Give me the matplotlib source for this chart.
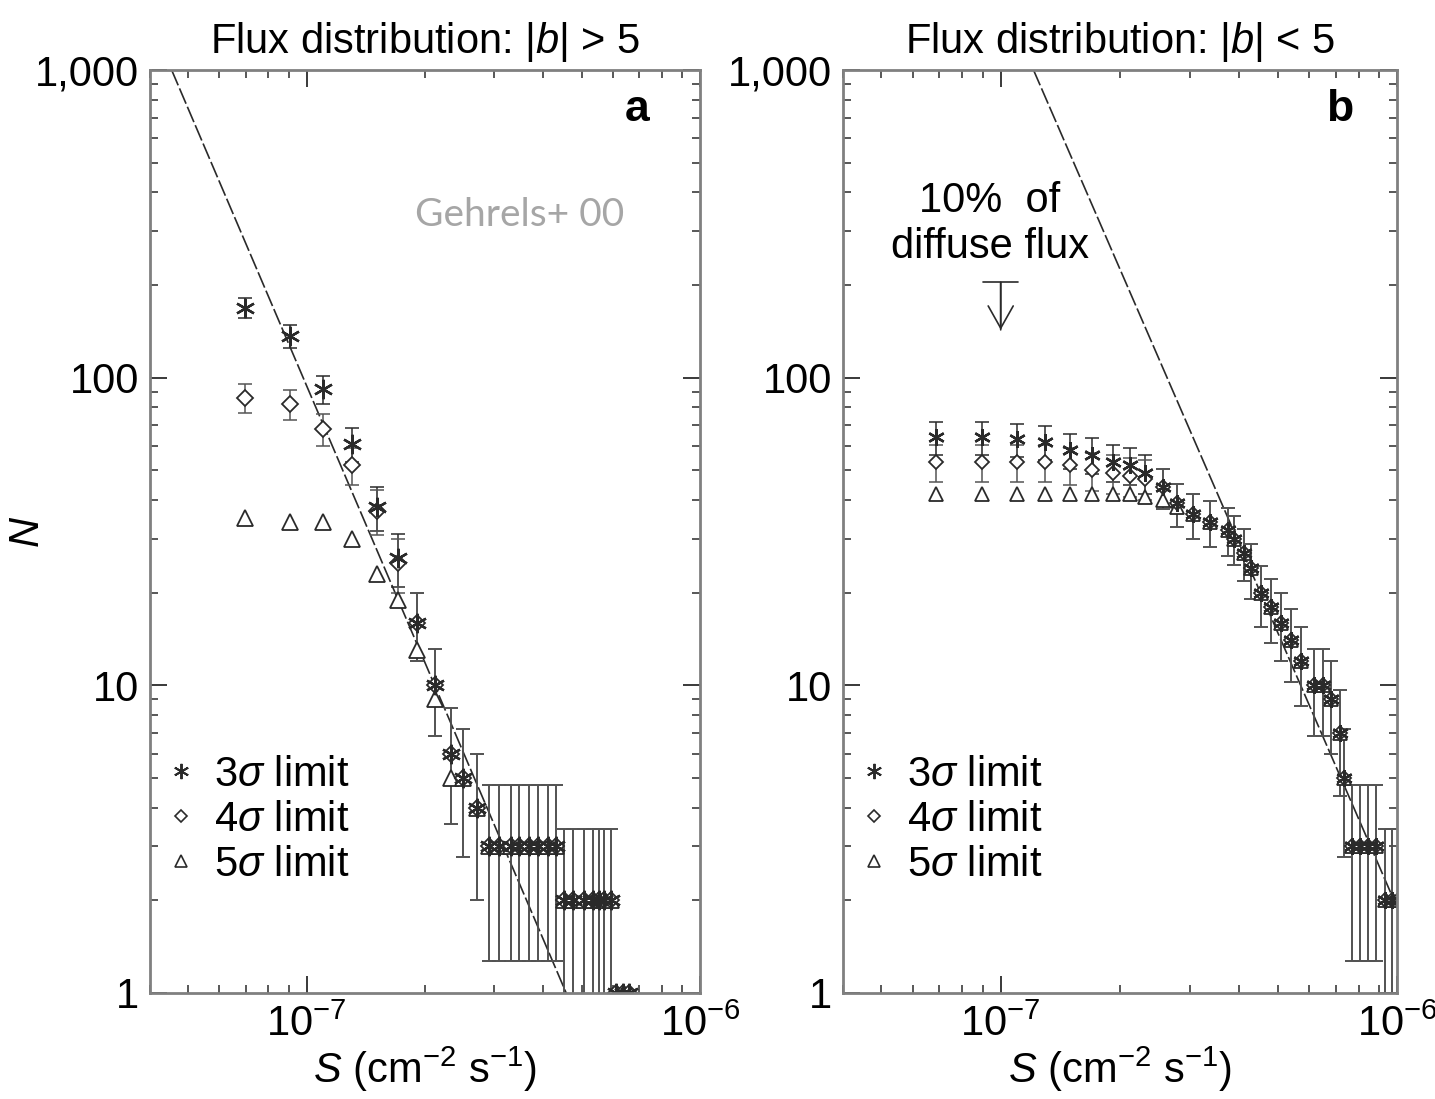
import numpy as np
import matplotlib.pyplot as plt
from matplotlib.ticker import LogLocator, FuncFormatter, NullFormatter
from matplotlib.lines import Line2D

plt.rcParams['font.family'] = ['Liberation Sans', 'DejaVu Sans']
plt.rcParams['mathtext.fontset'] = 'custom'
plt.rcParams['mathtext.rm'] = 'Liberation Sans'
plt.rcParams['mathtext.it'] = 'Liberation Sans:italic'
plt.rcParams['mathtext.bf'] = 'Liberation Sans:bold'

# ---- panel a: |b| > 5 ----
a_S = [6.96e-8, 9.05e-8, 1.104e-7, 1.301e-7, 1.514e-7, 1.712e-7, 1.913e-7, 2.125e-7,
       2.334e-7, 2.503e-7, 2.716e-7, 2.913e-7, 3.09e-7, 3.31e-7, 3.47e-7, 3.68e-7,
       3.88e-7, 4.11e-7, 4.31e-7, 4.52e-7, 4.76e-7, 5.08e-7, 5.35e-7, 5.54e-7,
       5.71e-7, 5.94e-7, 6.12e-7, 6.38e-7, 6.60e-7]
a_N3 = [169, 137, 92, 61, 38, 26, 16, 10, 6, 5, 4, 3, 3, 3, 3, 3, 3, 3, 3,
        2, 2, 2, 2, 2, 2, 2, 1, 1, 1]
a_N4 = [86, 82, 68, 52, 37, 25, 16, 10, 6, 5, 4, 3, 3, 3, 3, 3, 3, 3, 3,
        2, 2, 2, 2, 2, 2, 2, 1, 1, 1]
a_N5 = [35, 34, 34, 30, 23, 19, 13, 9, 5, 5, 4, 3, 3, 3, 3, 3, 3, 3, 3,
        2, 2, 2, 2, 2, 2, 2, 1, 1, 1]
a_line_S = [4.54e-8, 4.57e-7]
a_line_N = [1000, 1]

# ---- panel b: |b| < 5 ----
b_S = [6.87e-8, 8.95e-8, 1.098e-7, 1.294e-7, 1.498e-7, 1.704e-7, 1.916e-7, 2.117e-7,
       2.312e-7, 2.568e-7, 2.788e-7, 3.06e-7, 3.38e-7, 3.74e-7, 3.87e-7, 4.10e-7,
       4.28e-7, 4.53e-7, 4.81e-7, 5.10e-7, 5.41e-7, 5.73e-7, 6.18e-7, 6.52e-7,
       6.83e-7, 7.16e-7, 7.37e-7, 7.68e-7, 8.05e-7, 8.44e-7, 8.84e-7, 9.32e-7,
       9.71e-7, 1.006e-6]
b_N3 = [64, 64, 63, 62, 58, 56, 53, 52, 49, 44, 39, 36, 34, 32, 30, 27, 24, 20, 18,
        16, 14, 12, 10, 10, 9, 7, 5, 3, 3, 3, 3, 2, 2, 2]
b_N4 = [53, 53, 53, 53, 52, 50, 49, 48, 47, 44, 39, 36, 34, 32, 30, 27, 24, 20, 18,
        16, 14, 12, 10, 10, 9, 7, 5, 3, 3, 3, 3, 2, 2, 2]
b_N5 = [42, 42, 42, 42, 42, 42, 42, 42, 41, 40, 38, 36, 34, 32, 30, 27, 24, 20, 18,
        16, 14, 12, 10, 10, 9, 7, 5, 3, 3, 3, 3, 2, 2, 2]
b_line_S = [1.21e-7, 1.0e-6]
b_line_N = [1000, 1.9]
limit_S = 1.0e-7          # 10% of diffuse flux
limit_N = [204, 143]

labels = [r'3$\sigma$ limit', r'4$\sigma$ limit', r'5$\sigma$ limit']
ink = '#2a2a2a'
star = (6, 2, 0)
fs = 30

W, H = 1435, 1099
fig = plt.figure(figsize=(W / 100, H / 100), dpi=100)
axA = fig.add_axes([150 / W, 1 - 993 / H, 550 / W, 923 / H])
axB = fig.add_axes([843 / W, 1 - 993 / H, 554 / W, 923 / H])


def setup(ax, title):
    ax.set_xscale('log')
    ax.set_yscale('log')
    ax.set_xlim(4.0e-8, 1.0e-6)
    ax.set_ylim(1, 1000)
    ax.xaxis.set_major_locator(LogLocator(base=10, numticks=10))
    ax.xaxis.set_minor_locator(LogLocator(base=10, subs=np.arange(2, 10), numticks=20))
    ax.xaxis.set_minor_formatter(NullFormatter())
    ax.yaxis.set_major_formatter(FuncFormatter(lambda v, p: '{:,}'.format(int(round(v)))))
    ax.yaxis.set_minor_formatter(NullFormatter())
    ax.tick_params(which='both', direction='in', top=True, right=True,
                   colors=ink, labelcolor='black', labelsize=fs)
    ax.tick_params(which='major', length=12, width=1.3, pad=8)
    ax.tick_params(which='minor', length=6, width=1.1)
    for sp in ax.spines.values():
        sp.set_color('#808080')
        sp.set_linewidth(2)
    ax.set_title(title, fontsize=fs, pad=12)
    ax.set_xlabel(r'$S$ (cm$^{-2}$ s$^{-1}$)', fontsize=fs, labelpad=0)


def draw(ax, S, N3, N4, N5, ms):
    S = np.array(S)
    N3 = np.array(N3, dtype=float)
    N4 = np.array(N4, dtype=float)
    N5 = np.array(N5, dtype=float)
    m3 = N3 > 1
    m4 = N4 > 1
    ax.errorbar(S[m3], N3[m3], yerr=np.sqrt(N3[m3]), fmt='none', ecolor=ink,
                elinewidth=1.1, capsize=5, capthick=1.1)
    ax.errorbar(S[m4], N4[m4], yerr=np.sqrt(N4[m4]), fmt='none', ecolor='#555555',
                elinewidth=1.1, capsize=5, capthick=1.1)
    ax.plot(S, N5, ls='none', marker='^', ms=ms * 0.85, mfc='white', mec=ink, mew=1.3)
    ax.plot(S, N4, ls='none', marker='D', ms=ms * 0.6, mfc='white', mec=ink, mew=1.3)
    ax.plot(S, N3, ls='none', marker=star, ms=ms, mec=ink, mew=1.7)


def legend(ax, x0, ms):
    handles = [Line2D([], [], ls='none', marker=star, ms=ms, mec=ink, mew=1.4),
               Line2D([], [], ls='none', marker='D', ms=ms * 0.6, mfc='white', mec=ink, mew=1.2),
               Line2D([], [], ls='none', marker='^', ms=ms * 0.85, mfc='white', mec=ink, mew=1.2)]
    ax.legend(handles, labels, loc='upper left', bbox_to_anchor=(x0, 0.258),
              frameon=False, fontsize=fs, handlelength=0.7, handletextpad=0.45,
              labelspacing=0.12, borderpad=0, borderaxespad=0)


setup(axA, r'Flux distribution: |$b$| > 5')
axA.plot(a_line_S, a_line_N, color=ink, lw=1.2, ls=(0, (10, 2)))
draw(axA, a_S, a_N3, a_N4, a_N5, 14)
legend(axA, 0.029, 11)
axA.set_ylabel(r'$N$', fontsize=fs)
axA.yaxis.set_label_coords(-0.185, 0.5)
axA.text(0.885, 0.957, 'a', transform=axA.transAxes, fontsize=32, fontweight='bold',
         ha='center', va='center')

setup(axB, r'Flux distribution: |$b$| < 5')
axB.plot(b_line_S, b_line_N, color=ink, lw=1.2, ls=(0, (10, 2)))
draw(axB, b_S, b_N3, b_N4, b_N5, 12)
legend(axB, 0.029, 11)
axB.text(0.897, 0.957, 'b', transform=axB.transAxes, fontsize=32, fontweight='bold',
         ha='center', va='center')
axB.text(0.265, 0.833, '10%  of\ndiffuse flux', transform=axB.transAxes, fontsize=fs,
         ha='center', va='center', linespacing=1.2)
# upper-limit marker: flat bar on top, open arrow pointing down
axB.annotate('', xy=(limit_S, limit_N[1]), xytext=(limit_S, limit_N[0]),
             arrowprops=dict(arrowstyle='->, head_length=0.8, head_width=0.45',
                             color=ink, lw=1.2, shrinkA=0, shrinkB=0, mutation_scale=20))
axB.annotate('', xy=(limit_S, limit_N[1]), xytext=(limit_S, limit_N[0]),
             arrowprops=dict(arrowstyle=']-, widthA=0.63, lengthA=0',
                             color=ink, lw=1.2, shrinkA=0, shrinkB=0, mutation_scale=20))

fig.text(520 / W, 1 - 215 / H, 'Gehrels+ 00', color='#a6a6a6', fontsize=28,
         family=['Lato', 'DejaVu Sans'], ha='center', va='center')

fig.savefig('out.png', dpi=100, facecolor='white')
